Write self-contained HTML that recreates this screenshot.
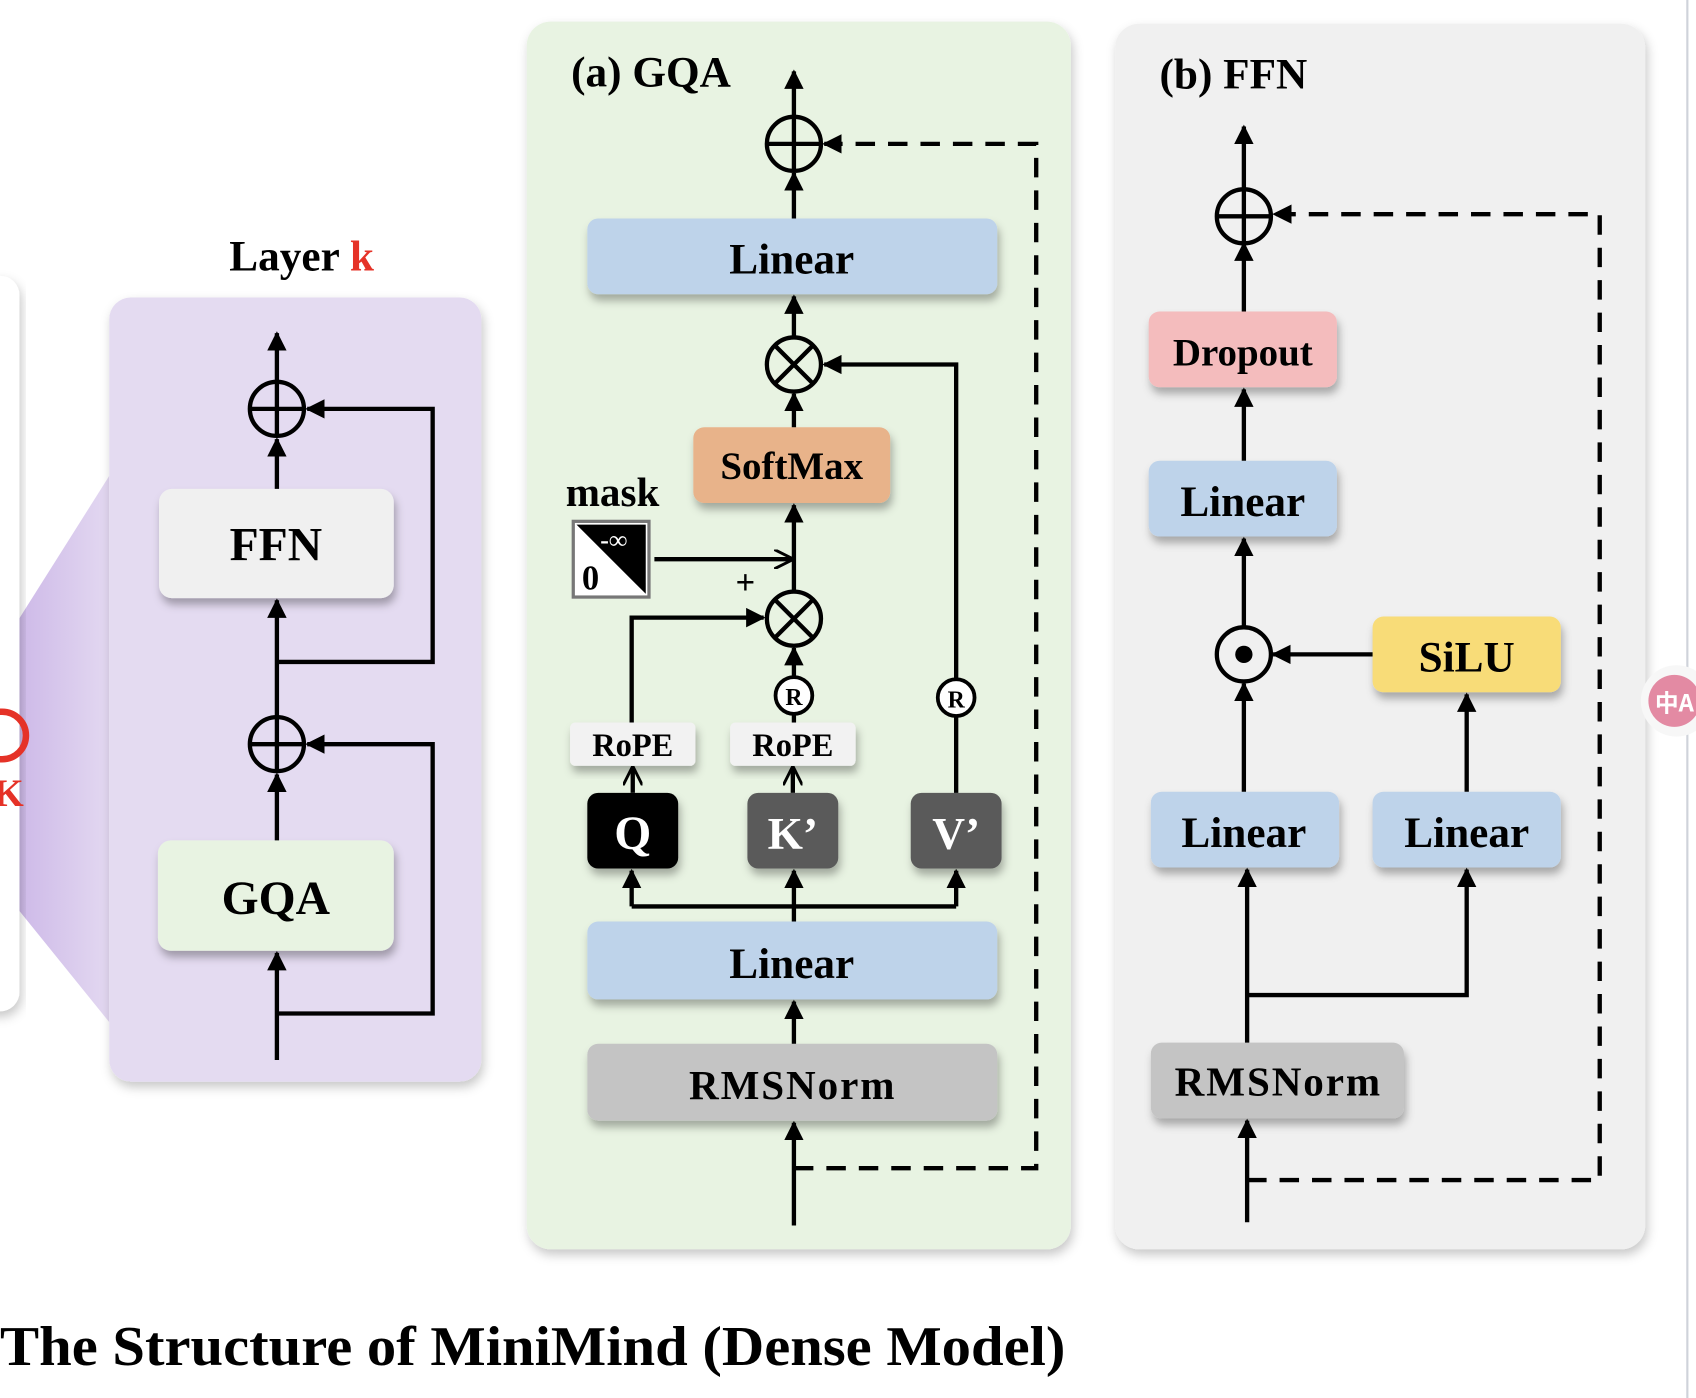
<!DOCTYPE html>
<html><head><meta charset="utf-8"><style>
html,body{margin:0;padding:0;background:#fff;width:1696px;height:1398px;overflow:hidden}
text{font-family:"Liberation Serif",serif;font-weight:bold}
</style></head><body>
<svg width="1696" height="1398" viewBox="0 0 1568 1292.5" xmlns="http://www.w3.org/2000/svg">
<defs>
<filter id="sh" x="-10%" y="-10%" width="130%" height="140%"><feDropShadow dx="2" dy="6" stdDeviation="4" flood-color="#000" flood-opacity="0.3"/></filter>
<filter id="sh2" x="-10%" y="-10%" width="120%" height="120%"><feDropShadow dx="2" dy="5" stdDeviation="5" flood-color="#000" flood-opacity="0.22"/></filter>
<linearGradient id="pg" x1="0" x2="1"><stop offset="0" stop-color="#c9b3e6"/><stop offset="1" stop-color="#e3d8f1"/></linearGradient>
<marker id="ah" viewBox="0 0 10 10" refX="9" refY="5" markerWidth="18" markerHeight="18" markerUnits="userSpaceOnUse" orient="auto"><path d="M0,0 L10,5 L0,10 z" fill="#000"/></marker>
<marker id="ao" viewBox="0 0 10 10" refX="9" refY="5" markerWidth="18" markerHeight="18" markerUnits="userSpaceOnUse" orient="auto"><path d="M0,0 L10,5 L0,10" fill="none" stroke="#000" stroke-width="1.5"/></marker>
</defs>
<rect width="1568" height="1293" fill="#fff"/>
<line x1="1560" y1="0" x2="1560" y2="1293" stroke="#cfd3da" stroke-width="2"/>
<polygon points="0,600 101,440 101,945 0,820" fill="url(#pg)"/>
<rect x="-40" y="255" width="58" height="680" rx="18" fill="#fff" filter="url(#sh2)"/>
<circle cx="2" cy="680" r="22" fill="none" stroke="#e53227" stroke-width="6"/>
<text x="-6" y="745" font-size="36" fill="#e53227">K</text>
<text x="212" y="250" font-size="40">Layer <tspan fill="#e53227">k</tspan></text>
<rect x="101" y="275" width="344" height="725" rx="20" fill="#e4dbf1" filter="url(#sh2)"/>
<rect x="147" y="452" width="217" height="101" rx="12" fill="#f0f0f0" filter="url(#sh)"/>
<text x="255" y="518" font-size="44" text-anchor="middle">FFN</text>
<rect x="146" y="777" width="218" height="102" rx="12" fill="#e8f3e2" filter="url(#sh)"/>
<text x="255" y="845" font-size="44" text-anchor="middle">GQA</text>
<g stroke="#000" stroke-width="4" fill="none">
<line x1="256" y1="980" x2="256" y2="881" marker-end="url(#ah)"/>
<line x1="256" y1="777" x2="256" y2="716" marker-end="url(#ah)"/>
<line x1="256" y1="662" x2="256" y2="555" marker-end="url(#ah)"/>
<line x1="256" y1="452" x2="256" y2="406" marker-end="url(#ah)"/>
<line x1="256" y1="352" x2="256" y2="308" marker-end="url(#ah)"/>
<circle cx="256" cy="378" r="25"/><line x1="231" y1="378" x2="281" y2="378"/><line x1="256" y1="353" x2="256" y2="403"/>
<circle cx="256" cy="688" r="25"/><line x1="231" y1="688" x2="281" y2="688"/><line x1="256" y1="663" x2="256" y2="713"/>
<polyline points="256,612 400,612 400,378 284,378" marker-end="url(#ah)"/>
<polyline points="256,937 400,937 400,688 284,688" marker-end="url(#ah)"/>
</g>
<rect x="487" y="20" width="503" height="1135" rx="22" fill="#e8f3e2" filter="url(#sh2)"/>
<text x="528" y="80" font-size="40">(a) GQA</text>
<rect x="543" y="202" width="379" height="70" rx="10" fill="#bed3ea" filter="url(#sh)"/>
<text x="732" y="253" font-size="40" text-anchor="middle">Linear</text>
<rect x="641" y="395" width="182" height="70" rx="10" fill="#e8b38a" filter="url(#sh)"/>
<text x="732" y="443" font-size="36" text-anchor="middle">SoftMax</text>
<text x="523" y="468" font-size="38">mask</text>
<rect x="530" y="482" width="70" height="70" fill="#fff" stroke="#777" stroke-width="3"/>
<polygon points="533,485 597,485 597,549" fill="#000"/>
<text x="555" y="507" font-size="24" fill="#fff">-∞</text>
<text x="538" y="545" font-size="32">0</text>
<text x="680" y="549" font-size="32" font-weight="normal">+</text>
<rect x="527" y="668" width="116" height="40" rx="5" fill="#f2f2f2" filter="url(#sh)"/>
<text x="585" y="699" font-size="30" text-anchor="middle">RoPE</text>
<rect x="675" y="668" width="116" height="40" rx="5" fill="#f2f2f2" filter="url(#sh)"/>
<text x="733" y="699" font-size="30" text-anchor="middle">RoPE</text>
<rect x="543" y="733" width="84" height="70" rx="10" fill="#000" filter="url(#sh)"/>
<text x="585" y="785" font-size="44" fill="#fff" text-anchor="middle">Q</text>
<rect x="691" y="733" width="84" height="70" rx="10" fill="#5a5a5a" filter="url(#sh)"/>
<text x="733" y="785" font-size="42" fill="#fff" text-anchor="middle">K’</text>
<rect x="842" y="733" width="84" height="70" rx="10" fill="#5a5a5a" filter="url(#sh)"/>
<text x="884" y="785" font-size="42" fill="#fff" text-anchor="middle">V’</text>
<rect x="543" y="852" width="379" height="72" rx="10" fill="#bed3ea" filter="url(#sh)"/>
<text x="732" y="904" font-size="40" text-anchor="middle">Linear</text>
<rect x="543" y="965" width="379" height="71" rx="10" fill="#c4c4c4" filter="url(#sh)"/>
<text x="732" y="1016" font-size="38" text-anchor="middle" textLength="190">RMSNorm</text>
<g stroke="#000" stroke-width="4" fill="none">
<line x1="734" y1="1133" x2="734" y2="1038" marker-end="url(#ah)"/>
<polyline points="734,1080 958,1080 958,133 762,133" stroke-dasharray="18,12" marker-end="url(#ah)"/>
<line x1="734" y1="965" x2="734" y2="926" marker-end="url(#ah)"/>
<line x1="734" y1="852" x2="734" y2="805" marker-end="url(#ah)"/>
<polyline points="584,838 584,805" marker-end="url(#ah)"/>
<polyline points="884,838 884,805" marker-end="url(#ah)"/>
<line x1="584" y1="838" x2="884" y2="838"/>
<line x1="585" y1="733" x2="585" y2="710" marker-end="url(#ao)"/>
<line x1="733" y1="733" x2="733" y2="710" marker-end="url(#ao)"/>
<polyline points="584,668 584,571 706,571" marker-end="url(#ah)"/>
<line x1="734" y1="668" x2="734" y2="661"/>
<line x1="734" y1="625" x2="734" y2="599" marker-end="url(#ah)"/>
<circle cx="734" cy="572" r="25"/><line x1="716" y1="554" x2="752" y2="590"/><line x1="752" y1="554" x2="716" y2="590"/>
<line x1="734" y1="547" x2="734" y2="467" marker-end="url(#ah)"/>
<line x1="605" y1="517" x2="732" y2="517" marker-end="url(#ao)"/>
<line x1="734" y1="395" x2="734" y2="364" marker-end="url(#ah)"/>
<circle cx="734" cy="337" r="25"/><line x1="716" y1="319" x2="752" y2="355"/><line x1="752" y1="319" x2="716" y2="355"/>
<line x1="734" y1="312" x2="734" y2="274" marker-end="url(#ah)"/>
<polyline points="884,733 884,663"/>
<polyline points="884,627 884,337 762,337" marker-end="url(#ah)"/>
<line x1="734" y1="202" x2="734" y2="160" marker-end="url(#ah)"/>
<line x1="734" y1="108" x2="734" y2="66" marker-end="url(#ah)"/>
<circle cx="734" cy="133" r="25"/><line x1="709" y1="133" x2="759" y2="133"/><line x1="734" y1="108" x2="734" y2="158"/>
</g>
<g stroke="#000" stroke-width="3.5" fill="#fff">
<circle cx="734" cy="643" r="17"/><circle cx="884" cy="645" r="17"/>
</g>
<text x="734" y="652" font-size="22" text-anchor="middle">R</text>
<text x="884" y="654" font-size="22" text-anchor="middle">R</text>
<rect x="1031" y="22" width="490" height="1133" rx="22" fill="#f0f0f0" filter="url(#sh2)"/>
<text x="1072" y="82" font-size="40">(b) FFN</text>
<rect x="1062" y="288" width="174" height="70" rx="10" fill="#f4bcbd" filter="url(#sh)"/>
<text x="1149" y="338" font-size="36" text-anchor="middle">Dropout</text>
<rect x="1062" y="426" width="174" height="70" rx="10" fill="#bed3ea" filter="url(#sh)"/>
<text x="1149" y="477" font-size="40" text-anchor="middle">Linear</text>
<rect x="1269" y="570" width="174" height="70" rx="10" fill="#f8dc78" filter="url(#sh)"/>
<text x="1356" y="621" font-size="40" text-anchor="middle">SiLU</text>
<rect x="1064" y="732" width="174" height="70" rx="10" fill="#bed3ea" filter="url(#sh)"/>
<text x="1150" y="783" font-size="40" text-anchor="middle">Linear</text>
<rect x="1269" y="732" width="174" height="70" rx="10" fill="#bed3ea" filter="url(#sh)"/>
<text x="1356" y="783" font-size="40" text-anchor="middle">Linear</text>
<rect x="1064" y="964" width="234" height="70" rx="10" fill="#c4c4c4" filter="url(#sh)"/>
<text x="1181" y="1013" font-size="38" text-anchor="middle" textLength="190">RMSNorm</text>
<g stroke="#000" stroke-width="4" fill="none">
<line x1="1153" y1="1130" x2="1153" y2="1036" marker-end="url(#ah)"/>
<polyline points="1153,1091 1479,1091 1479,198 1178,198" stroke-dasharray="18,12" marker-end="url(#ah)"/>
<line x1="1153" y1="964" x2="1153" y2="804" marker-end="url(#ah)"/>
<polyline points="1153,920 1356,920 1356,804" marker-end="url(#ah)"/>
<line x1="1356" y1="732" x2="1356" y2="642" marker-end="url(#ah)"/>
<line x1="1269" y1="605" x2="1177" y2="605" marker-end="url(#ah)"/>
<line x1="1150" y1="732" x2="1150" y2="632" marker-end="url(#ah)"/>
<circle cx="1150" cy="605" r="25"/>
<line x1="1150" y1="580" x2="1150" y2="498" marker-end="url(#ah)"/>
<line x1="1150" y1="426" x2="1150" y2="360" marker-end="url(#ah)"/>
<line x1="1150" y1="288" x2="1150" y2="225" marker-end="url(#ah)"/>
<circle cx="1150" cy="200" r="25"/><line x1="1125" y1="200" x2="1175" y2="200"/><line x1="1150" y1="175" x2="1150" y2="225"/>
<line x1="1150" y1="175" x2="1150" y2="117" marker-end="url(#ah)"/>
</g>
<circle cx="1150" cy="605" r="8" fill="#000"/>
<circle cx="1550" cy="648" r="33" fill="#f7f7f7"/>
<circle cx="1548" cy="648" r="24" fill="#e38aa3"/>
<text x="1548" y="658" font-size="22" fill="#fff" text-anchor="middle" style="font-family:'Noto Sans CJK SC',sans-serif">中A</text>
<text x="0" y="1262" font-size="52" textLength="985" lengthAdjust="spacingAndGlyphs">The Structure of MiniMind (Dense Model)</text>
</svg>
</body></html>
